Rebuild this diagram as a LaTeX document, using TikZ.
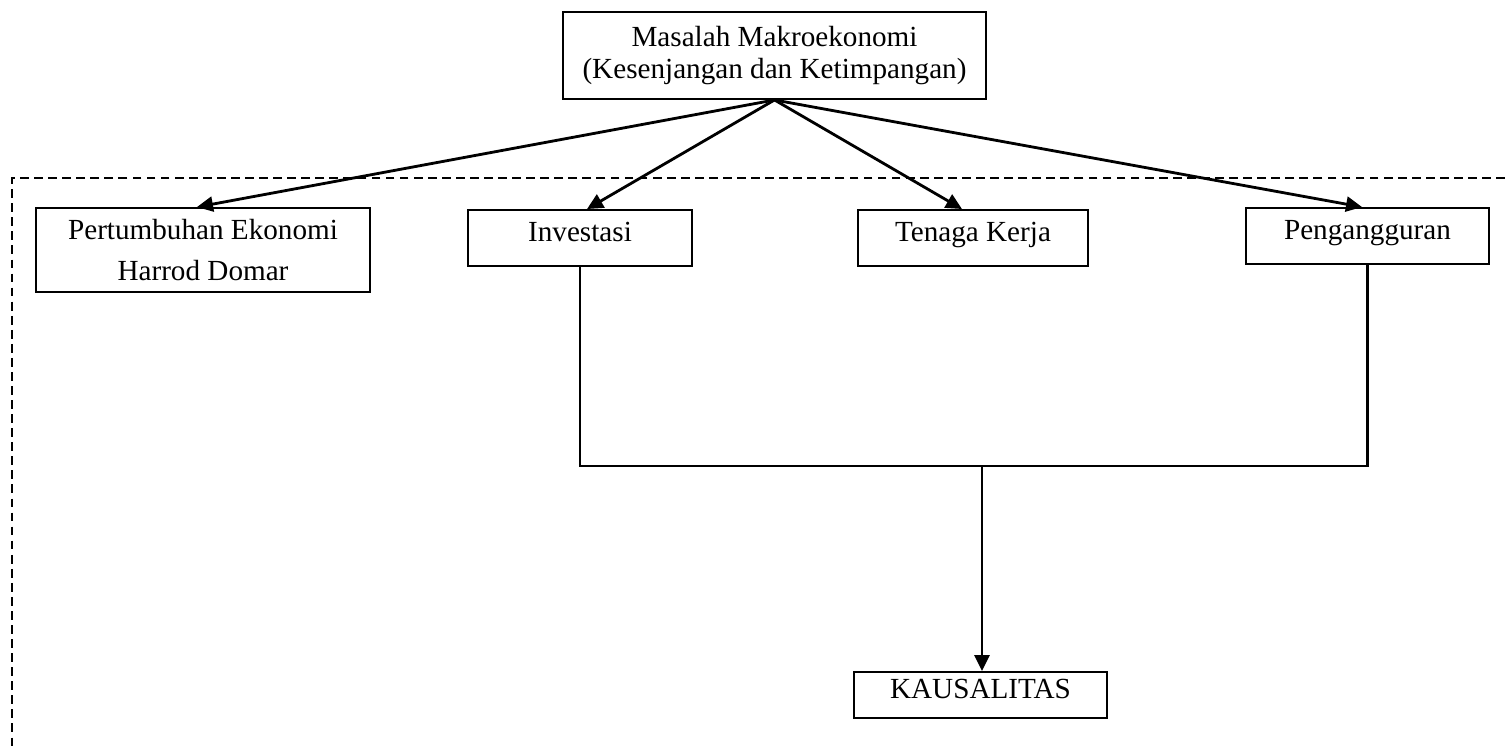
\documentclass[tikz,border=0pt]{standalone}
\usepackage{fontspec}
\setmainfont{Liberation Serif}
\usetikzlibrary{arrows.meta}

\begin{document}
\begin{tikzpicture}
    \useasboundingbox (0,0) rectangle (30.1,15);

        % dashed frame, only top and left side are shown
        \draw[line width=1pt, dash pattern=on 5pt off 3pt] (30.1,11.44) -- (0.24,11.44) -- (0.24,0);

        % boxes, the tuple is the centre of each box
        \begin{scope}[every node/.style={draw, rectangle, line width=1.1pt, inner sep=0pt, align=center,
                      font=\fontsize{16.6}{18.2}\selectfont}]
        \node[minimum width=8.46cm, minimum height=1.74cm] (masalah) at (15.49,13.89) {Masalah Makroekonomi\\(Kesenjangan dan Ketimpangan)};
        \node[minimum width=6.68cm, minimum height=1.68cm, font=\fontsize{16.6}{22.8}\selectfont] (pert) at (4.06,10.0) {Pertumbuhan Ekonomi\\Harrod Domar};
        \node[minimum width=4.48cm, minimum height=1.12cm, text height=11.6pt, text depth=7.5pt] (inv) at (11.6,10.24) {Investasi};
        \node[minimum width=4.6cm, minimum height=1.12cm, text height=11.6pt, text depth=7.5pt] (ten) at (19.46,10.24) {Tenaga Kerja};
        \node[minimum width=4.86cm, minimum height=1.12cm, text height=11.6pt, text depth=7.5pt] (peng) at (27.35,10.28) {Pengangguran};
        \node[minimum width=5.06cm, minimum height=0.92cm, text height=11.6pt, text depth=7.5pt] (kaus) at (19.61,1.1) {KAUSALITAS};
        \end{scope}

        \coordinate (hub) at (19.64,5.68);

        % arrows from the top box
        \begin{scope}[>={Triangle[length=0.32cm,width=0.3cm]},
                  every edge/.style={draw=black, line width=1.6pt}]
        \path [->] (masalah.south) edge ([xshift=-0.12cm]pert.north);
        \path [->] (masalah.south) edge ([xshift=0.14cm]inv.north);
        \path [->] (masalah.south) edge ([xshift=-0.22cm]ten.north);
        \path [->] (masalah.south) edge ([xshift=-0.11cm]peng.north);
        \path [->] (hub) edge (hub |- kaus.north);
        \end{scope}

        % elbow lines meeting at the hub
        \draw[line width=1.3pt] (inv.south) |- (hub);
        \draw[line width=1.3pt] (peng.south) |- (hub);

\end{tikzpicture}
\end{document}
